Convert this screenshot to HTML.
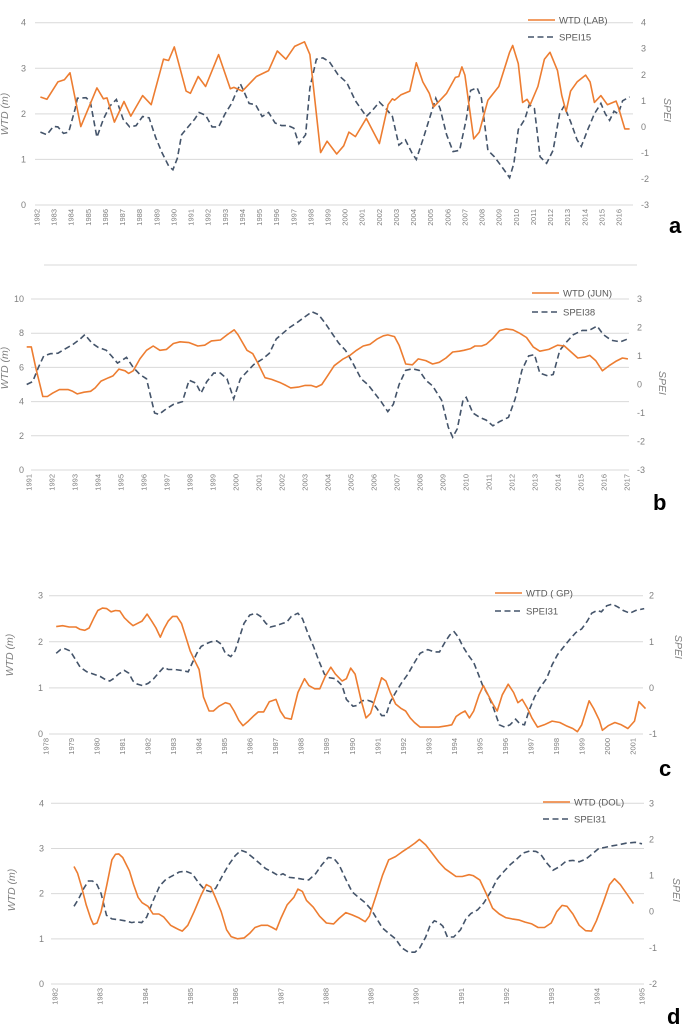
<!DOCTYPE html>
<html><head><meta charset="utf-8">
<style>
html,body{margin:0;padding:0;background:#fff;}
svg{display:block;font-family:"Liberation Sans",Arial,sans-serif;}
.tick{font-size:9px;fill:#7f7f7f;}
.yr{font-size:7.5px;fill:#7f7f7f;}
.ttl{font-size:10.5px;fill:#7f7f7f;font-style:italic;}
.leg{font-size:9.5px;fill:#595959;}
.pl{font-size:22px;font-weight:bold;fill:#000;}
</style></head>
<body>
<svg id="chart" width="685" height="1036" viewBox="0 0 685 1036"></svg>
<script>
// ---------- Panel a (LAB) ----------
const labWtdYears=[1982.20,1982.58,1983.22,1983.60,1983.93,1984.56,1985.50,1985.88,1986.09,1986.52,1987.08,1987.48,1988.17,1988.67,1989.39,1989.69,1990.02,1990.71,1990.96,1991.42,1991.85,1992.61,1993.29,1993.50,1994.00,1994.82,1995.53,1996.04,1996.54,1997.05,1997.63,1997.94,1998.57,1998.95,1999.51,1999.92,2000.22,2000.60,2001.24,2002.00,2002.51,2002.76,2002.89,2003.27,2003.78,2004.16,2004.54,2004.92,2005.17,2005.55,2005.93,2006.44,2006.64,2006.82,2007.00,2007.51,2007.84,2008.34,2008.98,2009.61,2009.79,2010.12,2010.37,2010.63,2010.81,2011.26,2011.64,2011.97,2012.41,2012.66,2012.91,2013.17,2013.55,2014.05,2014.31,2014.56,2014.94,2015.32,2015.83,2015.96,2016.34,2016.62];
const labWtd=[2.37,2.32,2.7,2.75,2.9,1.72,2.57,2.33,2.35,1.82,2.27,1.95,2.4,2.2,3.2,3.17,3.47,2.5,2.45,2.82,2.6,3.3,2.55,2.58,2.5,2.82,2.95,3.38,3.2,3.48,3.58,3.3,1.15,1.4,1.12,1.3,1.6,1.5,1.9,1.35,2.2,2.33,2.3,2.42,2.5,3.12,2.7,2.45,2.15,2.3,2.45,2.8,2.82,3.03,2.85,1.45,1.6,2.3,2.6,3.35,3.5,3.1,2.25,2.32,2.2,2.6,3.2,3.35,2.95,2.4,2.05,2.5,2.7,2.85,2.7,2.25,2.4,2.2,2.28,2.15,1.67,1.67];
const labSpeiYears=[1982.20,1982.58,1982.96,1983.22,1983.55,1983.85,1984.23,1984.36,1984.87,1985.12,1985.50,1985.88,1986.26,1986.64,1987.03,1987.41,1987.79,1988.17,1988.55,1988.93,1989.31,1989.69,1989.94,1990.20,1990.45,1990.83,1991.21,1991.47,1991.85,1992.23,1992.61,1992.99,1993.37,1993.62,1993.88,1994.13,1994.39,1994.77,1995.15,1995.53,1995.91,1996.29,1996.67,1997.00,1997.30,1997.69,1997.94,1998.32,1998.70,1999.08,1999.59,2000.10,2000.60,2001.24,2001.62,2002.00,2002.38,2002.76,2003.14,2003.52,2003.90,2004.16,2004.54,2004.92,2005.30,2005.55,2005.93,2006.31,2006.69,2007.08,2007.33,2007.71,2007.96,2008.34,2008.72,2009.23,2009.61,2009.86,2010.12,2010.50,2010.76,2011.06,2011.39,2011.77,2012.15,2012.53,2012.79,2013.17,2013.55,2013.80,2014.18,2014.56,2014.94,2015.20,2015.45,2015.71,2015.96,2016.21,2016.62];
const labSpei=[-0.2,-0.3,0.02,0,-0.25,-0.2,0.7,1.1,1.12,0.95,-0.4,0.3,0.8,1.05,0.3,0,0.05,0.4,0.35,-0.4,-1.0,-1.5,-1.65,-1.2,-0.3,0,0.3,0.55,0.45,0,0,0.5,0.9,1.3,1.65,1.3,0.9,0.85,0.4,0.55,0.15,0.05,0.05,-0.05,-0.65,-0.3,1.5,2.6,2.65,2.5,2.0,1.7,1.0,0.4,0.65,0.95,0.7,0.4,-0.7,-0.5,-1.0,-1.25,-0.5,0.3,1.1,0.7,-0.3,-0.95,-0.9,0.3,1.4,1.5,1.1,-0.9,-1.15,-1.6,-1.95,-1.4,-0.1,0.3,0.85,0.7,-1.15,-1.4,-0.9,0.5,0.8,0.2,-0.5,-0.75,-0.1,0.5,0.9,0.5,0.25,0.6,0.5,1.0,1.15];
const labWtdTicks=[0,1,2,3,4];
const labSpeiTicks=[-3,-2,-1,0,1,2,3,4];

// ---------- Panel b (JUN) ----------
const junWtdYears=[1990.90,1991.10,1991.29,1991.60,1991.80,1992.03,1992.32,1992.71,1992.90,1993.10,1993.39,1993.68,1993.88,1994.13,1994.46,1994.65,1994.91,1995.18,1995.33,1995.53,1995.82,1996.11,1996.40,1996.69,1996.98,1997.28,1997.57,1997.96,1998.34,1998.64,1998.93,1999.32,1999.61,1999.92,2000.09,2000.48,2000.73,2000.97,2001.26,2001.55,2001.94,2002.17,2002.38,2002.71,2003.01,2003.26,2003.49,2003.73,2003.98,2004.27,2004.66,2004.95,2005.24,2005.53,2005.83,2006.12,2006.41,2006.60,2006.89,2007.09,2007.38,2007.67,2007.92,2008.25,2008.55,2008.84,2009.13,2009.42,2009.71,2009.91,2010.20,2010.39,2010.68,2010.88,2011.17,2011.46,2011.75,2012.04,2012.33,2012.63,2012.92,2013.21,2013.60,2013.98,2014.28,2014.57,2014.86,2015.15,2015.38,2015.64,2015.93,2016.22,2016.51,2016.80,2017.04];
const junWtd=[7.2,7.2,6.0,4.3,4.3,4.5,4.7,4.7,4.6,4.45,4.55,4.6,4.8,5.2,5.4,5.5,5.9,5.8,5.65,5.8,6.5,7.0,7.25,7.0,7.05,7.4,7.5,7.45,7.25,7.3,7.55,7.6,7.9,8.2,7.9,7.0,6.8,6.2,5.4,5.3,5.1,4.95,4.8,4.85,4.95,4.95,4.85,5.0,5.5,6.1,6.5,6.7,7.0,7.25,7.35,7.65,7.85,7.9,7.8,7.3,6.2,6.15,6.5,6.4,6.2,6.3,6.55,6.9,6.95,7.0,7.1,7.25,7.25,7.35,7.7,8.15,8.25,8.2,8.0,7.75,7.2,6.95,7.05,7.3,7.25,6.9,6.55,6.6,6.7,6.4,5.8,6.1,6.35,6.55,6.5];
const junSpeiYears=[1990.90,1991.16,1991.41,1991.64,1991.93,1992.26,1992.57,1992.90,1993.23,1993.43,1993.74,1994.01,1994.36,1994.59,1994.85,1995.24,1995.53,1995.82,1996.11,1996.46,1996.65,1996.89,1997.28,1997.67,1997.96,1998.25,1998.48,1998.73,1999.03,1999.32,1999.61,1999.90,2000.19,2000.48,2000.77,2001.16,2001.45,2001.75,2002.04,2002.33,2002.62,2002.95,2003.30,2003.59,2003.88,2004.17,2004.47,2004.76,2005.05,2005.44,2005.73,2006.02,2006.31,2006.60,2006.84,2007.09,2007.38,2007.67,2007.96,2008.25,2008.55,2008.94,2009.23,2009.42,2009.62,2009.87,2010.01,2010.30,2010.59,2010.88,2011.17,2011.46,2011.85,2012.14,2012.43,2012.72,2012.98,2013.21,2013.56,2013.79,2014.08,2014.38,2014.67,2015.06,2015.35,2015.70,2015.97,2016.32,2016.71,2017.04];
const junSpei=[0,0.1,0.6,1.0,1.08,1.1,1.25,1.4,1.6,1.75,1.45,1.3,1.2,1.0,0.75,0.95,0.6,0.35,0.2,-1.0,-1.05,-0.9,-0.7,-0.6,0.15,0.05,-0.3,0.1,0.4,0.4,0.2,-0.5,0.2,0.45,0.7,0.9,1.1,1.6,1.8,2.0,2.15,2.35,2.55,2.45,2.15,1.8,1.45,1.2,0.8,0.2,0.0,-0.3,-0.6,-0.95,-0.7,0.0,0.5,0.55,0.5,0.15,-0.05,-0.55,-1.5,-1.85,-1.55,-0.55,-0.45,-1.0,-1.15,-1.25,-1.45,-1.3,-1.15,-0.5,0.5,1.0,1.05,0.4,0.3,0.35,1.2,1.5,1.75,1.9,1.9,2.05,1.75,1.55,1.5,1.6];
const junWtdTicks=[0,2,4,6,8,10];
const junSpeiTicks=[-3,-2,-1,0,1,2,3];

// ---------- Panel c (GP) ----------
const gpWtdYears=[1978.40,1978.65,1978.91,1979.17,1979.34,1979.52,1979.69,1979.86,1980.03,1980.21,1980.38,1980.55,1980.72,1980.89,1981.07,1981.24,1981.41,1981.58,1981.76,1981.96,1982.14,1982.31,1982.48,1982.62,1982.79,1982.96,1983.13,1983.31,1983.48,1983.65,1983.82,1984.00,1984.17,1984.39,1984.56,1984.77,1985.03,1985.20,1985.37,1985.55,1985.72,1985.93,1986.15,1986.32,1986.53,1986.75,1987.01,1987.18,1987.36,1987.61,1987.87,1988.13,1988.30,1988.53,1988.73,1988.94,1989.16,1989.34,1989.60,1989.77,1989.94,1990.11,1990.34,1990.54,1990.72,1990.94,1991.15,1991.32,1991.49,1991.70,1991.92,1992.09,1992.27,1992.44,1992.66,1993.04,1993.39,1993.73,1993.90,1994.07,1994.25,1994.42,1994.59,1994.76,1994.97,1995.14,1995.32,1995.51,1995.68,1995.88,1996.11,1996.32,1996.49,1996.66,1996.87,1997.04,1997.26,1997.52,1997.83,1998.13,1998.38,1998.64,1998.82,1998.99,1999.16,1999.28,1999.46,1999.68,1999.80,2000.03,2000.29,2000.54,2000.80,2001.06,2001.23,2001.49];
const gpWtd=[2.33,2.35,2.32,2.32,2.27,2.25,2.3,2.5,2.68,2.73,2.72,2.65,2.68,2.67,2.52,2.43,2.35,2.4,2.45,2.6,2.45,2.3,2.1,2.28,2.45,2.55,2.55,2.4,2.1,1.8,1.6,1.4,0.8,0.5,0.5,0.6,0.68,0.65,0.5,0.3,0.18,0.28,0.4,0.48,0.48,0.7,0.75,0.5,0.35,0.32,0.9,1.2,1.05,0.98,0.98,1.25,1.45,1.3,1.15,1.2,1.43,1.3,0.75,0.35,0.45,0.85,1.22,1.15,0.9,0.65,0.55,0.5,0.35,0.25,0.15,0.15,0.15,0.18,0.2,0.38,0.45,0.5,0.35,0.5,0.85,1.05,0.85,0.65,0.5,0.85,1.08,0.9,0.68,0.75,0.55,0.35,0.15,0.2,0.28,0.25,0.18,0.12,0.05,0.2,0.5,0.72,0.55,0.3,0.08,0.18,0.25,0.2,0.12,0.28,0.7,0.55];
const gpSpeiYears=[1978.40,1978.57,1978.74,1978.95,1979.17,1979.34,1979.60,1979.86,1980.12,1980.33,1980.50,1980.64,1980.84,1981.07,1981.24,1981.41,1981.58,1981.79,1982.01,1982.22,1982.45,1982.62,1982.79,1983.05,1983.31,1983.57,1983.74,1983.91,1984.08,1984.25,1984.46,1984.69,1984.86,1985.03,1985.24,1985.41,1985.58,1985.76,1985.98,1986.21,1986.41,1986.62,1986.79,1987.01,1987.27,1987.44,1987.61,1987.87,1988.05,1988.25,1988.48,1988.68,1988.91,1989.11,1989.34,1989.60,1989.77,1990.03,1990.20,1990.37,1990.60,1990.77,1990.97,1991.15,1991.32,1991.49,1991.70,1991.92,1992.18,1992.44,1992.66,1992.96,1993.21,1993.42,1993.64,1993.82,1993.99,1994.16,1994.33,1994.56,1994.76,1994.94,1995.11,1995.32,1995.54,1995.76,1995.97,1996.18,1996.40,1996.57,1996.75,1996.92,1997.14,1997.35,1997.61,1997.83,1998.04,1998.30,1998.52,1998.76,1998.99,1999.21,1999.38,1999.59,1999.76,1999.97,2000.19,2000.42,2000.62,2000.88,2001.10,2001.44];
const gpSpei=[0.75,0.83,0.85,0.8,0.6,0.45,0.35,0.3,0.25,0.18,0.15,0.2,0.3,0.38,0.32,0.15,0.08,0.05,0.1,0.2,0.35,0.45,0.4,0.4,0.38,0.35,0.55,0.75,0.9,0.95,1.0,1.02,0.95,0.75,0.68,0.8,1.1,1.4,1.58,1.62,1.55,1.4,1.32,1.35,1.4,1.43,1.55,1.62,1.5,1.2,0.9,0.6,0.3,0.22,0.2,0.05,-0.25,-0.4,-0.38,-0.28,-0.27,-0.3,-0.45,-0.6,-0.6,-0.3,-0.1,0.1,0.3,0.55,0.75,0.83,0.78,0.78,1.0,1.15,1.22,1.1,0.9,0.7,0.55,0.3,0.05,-0.15,-0.45,-0.8,-0.85,-0.8,-0.68,-0.78,-0.8,-0.5,-0.2,0.0,0.2,0.5,0.72,0.9,1.05,1.2,1.28,1.45,1.62,1.68,1.65,1.78,1.82,1.75,1.68,1.62,1.68,1.72];
const gpWtdTicks=[0,1,2,3];
const gpSpeiTicks=[-1,0,1,2];

// ---------- Panel d (DOL) ----------
const dolWtdYears=[1982.42,1982.50,1982.59,1982.69,1982.79,1982.85,1982.93,1983.02,1983.15,1983.26,1983.34,1983.41,1983.50,1983.65,1983.74,1983.84,1983.93,1984.06,1984.17,1984.30,1984.41,1984.56,1984.65,1984.75,1984.82,1984.94,1985.08,1985.23,1985.35,1985.45,1985.56,1985.68,1985.80,1985.90,1986.04,1986.19,1986.31,1986.43,1986.57,1986.71,1986.81,1986.90,1987.00,1987.14,1987.29,1987.38,1987.48,1987.57,1987.72,1987.86,1988.01,1988.17,1988.29,1988.44,1988.58,1988.72,1988.87,1988.96,1989.11,1989.25,1989.39,1989.54,1989.68,1989.83,1989.97,1990.07,1990.21,1990.35,1990.50,1990.64,1990.78,1990.88,1991.02,1991.17,1991.26,1991.41,1991.55,1991.69,1991.84,1991.98,1992.12,1992.27,1992.41,1992.56,1992.70,1992.84,1992.99,1993.11,1993.23,1993.34,1993.47,1993.61,1993.75,1993.88,1993.99,1994.14,1994.28,1994.39,1994.52,1994.66,1994.81,1995.00];
const dolWtd=[2.6,2.45,2.15,1.75,1.45,1.32,1.35,1.6,2.2,2.75,2.87,2.88,2.8,2.5,2.2,1.92,1.8,1.72,1.55,1.55,1.48,1.3,1.25,1.2,1.17,1.3,1.6,1.95,2.2,2.15,1.9,1.6,1.2,1.05,1.0,1.02,1.12,1.25,1.3,1.3,1.25,1.2,1.45,1.75,1.92,2.1,2.05,1.85,1.7,1.5,1.35,1.33,1.45,1.58,1.53,1.47,1.38,1.5,1.95,2.4,2.75,2.82,2.92,3.02,3.12,3.2,3.08,2.9,2.7,2.55,2.45,2.38,2.38,2.42,2.4,2.3,2.0,1.68,1.55,1.47,1.44,1.42,1.37,1.33,1.25,1.25,1.35,1.6,1.74,1.72,1.55,1.3,1.18,1.17,1.4,1.8,2.2,2.33,2.2,2.0,1.78];
const dolSpeiYears=[1982.42,1982.52,1982.64,1982.74,1982.83,1982.93,1983.02,1983.14,1983.26,1983.41,1983.55,1983.70,1983.79,1983.92,1984.03,1984.17,1984.32,1984.46,1984.61,1984.75,1984.89,1985.04,1985.18,1985.32,1985.45,1985.56,1985.71,1985.85,1985.99,1986.12,1986.23,1986.38,1986.52,1986.66,1986.81,1986.95,1987.05,1987.19,1987.34,1987.48,1987.62,1987.77,1987.91,1988.05,1988.17,1988.29,1988.44,1988.58,1988.72,1988.87,1989.01,1989.13,1989.25,1989.39,1989.54,1989.68,1989.83,1989.97,1990.08,1990.21,1990.30,1990.40,1990.50,1990.59,1990.69,1990.83,1990.98,1991.10,1991.21,1991.36,1991.50,1991.65,1991.79,1991.93,1992.08,1992.22,1992.36,1992.51,1992.65,1992.75,1992.89,1993.03,1993.18,1993.32,1993.47,1993.61,1993.75,1993.90,1994.04,1994.18,1994.33,1994.47,1994.66,1994.85,1995.00];
const dolSpei=[0.15,0.35,0.65,0.85,0.85,0.75,0.5,-0.1,-0.2,-0.22,-0.25,-0.3,-0.28,-0.3,-0.15,0.3,0.72,0.9,1.0,1.1,1.12,1.05,0.8,0.6,0.55,0.65,1.0,1.3,1.55,1.7,1.65,1.5,1.35,1.2,1.1,1.0,1.05,0.95,0.93,0.9,0.88,1.05,1.3,1.5,1.48,1.3,0.9,0.55,0.4,0.25,0.05,-0.2,-0.45,-0.6,-0.75,-1.0,-1.12,-1.12,-1.0,-0.7,-0.4,-0.25,-0.3,-0.4,-0.7,-0.7,-0.5,-0.2,-0.05,0.05,0.25,0.55,0.9,1.1,1.3,1.45,1.62,1.68,1.67,1.6,1.35,1.15,1.25,1.4,1.42,1.38,1.45,1.6,1.75,1.78,1.82,1.85,1.9,1.92,1.88];
const dolWtdTicks=[0,1,2,3,4];
const dolSpeiTicks=[-2,-1,0,1,2,3];

const NS='http://www.w3.org/2000/svg';
const svg=document.getElementById('chart');
function mk(tag,attrs,parent){const e=document.createElementNS(NS,tag);for(const k in attrs)e.setAttribute(k,attrs[k]);(parent||svg).appendChild(e);return e;}
function linear(d0,d1,r0,r1){return v=>r0+(v-d0)*(r1-r0)/(d1-d0);}

function panel(p){
  const g=mk('g',{});
  
  
  const x=linear(p.y0,p.y1,p.x0,p.x1);
  const yL=linear(p.lMin,p.lMax,p.bottom,p.top);
  const yR=linear(p.rMin,p.rMax,p.bottom,p.top);
  p.lTicks.forEach(t=>{
    const ln=mk('line',{x1:p.gl,x2:p.gr,y1:yL(t),y2:yL(t),stroke:'#d9d9d9','stroke-width':1},g);
    
    
    const tx=mk('text',{x:p.lx,y:yL(t)+3,'text-anchor':'end',class:'tick'},g);
    tx.textContent=t;
    
    
  });
  p.rTicks.forEach(t=>{
    const tx=mk('text',{x:p.rx,y:yR(t)+3,'text-anchor':'start',class:'tick'},g);
    tx.textContent=t;
    
    
  });
  for(let yr=p.y0;yr<=p.y1;yr++){
    const xx=x(yr)+2.5;
    const tx=mk('text',{x:0,y:0,'text-anchor':'end',class:'yr',transform:`translate(${xx},${p.yrTop}) rotate(-90)`},g);
    tx.textContent=yr;
    
    
  }
  const wt=mk('text',{x:0,y:0,'text-anchor':'middle',class:'ttl',transform:`translate(${p.wtx},${p.wty}) rotate(-90)`},g);
  wt.textContent='WTD (m)';
  
  
  const st=mk('text',{x:0,y:0,'text-anchor':'middle',class:'ttl',transform:`translate(${p.stx},${p.sty}) rotate(90)`},g);
  st.textContent='SPEI';
  
  
  const sp=p.sYears.map((yr,i)=>`${i?'L':'M'}${x(yr).toFixed(1)},${yR(p.sVals[i]).toFixed(1)}`).join('');
  const sl=mk('path',{d:sp,fill:'none',stroke:'#44546a','stroke-width':1.6,'stroke-dasharray':'6,3.5'},g);
  
  
  const wp=p.wYears.map((yr,i)=>`${i?'L':'M'}${x(yr).toFixed(1)},${yL(p.wVals[i]).toFixed(1)}`).join('');
  const wl=mk('path',{d:wp,fill:'none',stroke:'#ed7d31','stroke-width':1.6,'stroke-linejoin':'round'},g);
  
  
  const l1=mk('line',{x1:p.legX,x2:p.legX+27,y1:p.legY,y2:p.legY,stroke:'#ed7d31','stroke-width':1.6},g);
  
  
  const t1=mk('text',{x:p.legX+31,y:p.legY+3.5,class:'leg'},g);
  t1.textContent=p.wLabel;
  
  
  const l2=mk('line',{x1:p.legX,x2:p.legX+27,y1:p.legY+p.legGap,y2:p.legY+p.legGap,stroke:'#44546a','stroke-width':1.6,'stroke-dasharray':'6,3.5'},g);
  
  
  const t2=mk('text',{x:p.legX+31,y:p.legY+p.legGap+3.5,class:'leg'},g);
  t2.textContent=p.sLabel;
  
  
  const pl=mk('text',{x:p.plx,y:p.ply,class:'pl'},g);
  pl.textContent=p.letter;
  
  
}

panel({name:'panel-a-lab',y0:1982,y1:2016,x0:37,x1:619,gl:35,gr:633,top:22.7,bottom:205,lMin:0,lMax:4,rMin:-3,rMax:4,
  lTicks:labWtdTicks,rTicks:labSpeiTicks,lx:26,rx:641,yrTop:209,wtx:8,wty:114,stx:664,sty:110,
  wYears:labWtdYears,wVals:labWtd,sYears:labSpeiYears,sVals:labSpei,legX:528,legY:20,legGap:17,
  wLabel:'WTD (LAB)',sLabel:'SPEI15',letter:'a',plx:669,ply:233});
panel({name:'panel-b-jun',y0:1991,y1:2017,x0:29,x1:627,gl:31,gr:629,top:299,bottom:470,lMin:0,lMax:10,rMin:-3,rMax:3,
  lTicks:junWtdTicks,rTicks:junSpeiTicks,lx:24,rx:637,yrTop:474,wtx:8,wty:368,stx:659,sty:383,
  wYears:junWtdYears,wVals:junWtd,sYears:junSpeiYears,sVals:junSpei,legX:532,legY:293,legGap:19,
  wLabel:'WTD (JUN)',sLabel:'SPEI38',letter:'b',plx:653,ply:510});
panel({name:'panel-c-gp',y0:1978,y1:2001,x0:46,x1:633,gl:49,gr:643,top:595.7,bottom:734,lMin:0,lMax:3,rMin:-1,rMax:2,
  lTicks:gpWtdTicks,rTicks:gpSpeiTicks,lx:43,rx:649,yrTop:738,wtx:13,wty:655,stx:675,sty:647,
  wYears:gpWtdYears,wVals:gpWtd,sYears:gpSpeiYears,sVals:gpSpei,legX:495,legY:593,legGap:18,
  wLabel:'WTD ( GP)',sLabel:'SPEI31',letter:'c',plx:659,ply:776});
panel({name:'panel-d-dol',y0:1982,y1:1995,x0:55,x1:642,gl:51,gr:644,top:803.3,bottom:984,lMin:0,lMax:4,rMin:-2,rMax:3,
  lTicks:dolWtdTicks,rTicks:dolSpeiTicks,lx:44,rx:649,yrTop:988,wtx:15,wty:890,stx:673,sty:890,
  wYears:dolWtdYears,wVals:dolWtd,sYears:dolSpeiYears,sVals:dolSpei,legX:543,legY:802,legGap:17,
  wLabel:'WTD (DOL)',sLabel:'SPEI31',letter:'d',plx:667,ply:1024});

const sep=mk('line',{x1:44,x2:637,y1:265,y2:265,stroke:'#d9d9d9','stroke-width':1});


</script>
</body></html>
